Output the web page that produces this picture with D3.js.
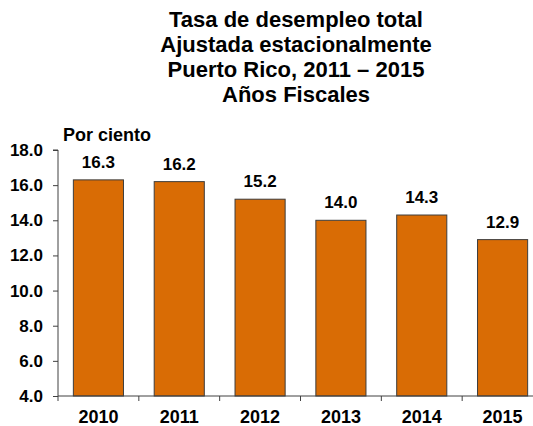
<!DOCTYPE html>
<html>
<head>
<meta charset="utf-8">
<script src="https://cdn.jsdelivr.net/npm/d3@7"></script>
<style>
  body { margin: 0; background: #fff; }
  text { font-family: "Liberation Sans", Arial, sans-serif; font-weight: bold; fill: #000; }
</style>
</head>
<body>
<div id="chart"></div>
<script>
const years = ["2010", "2011", "2012", "2013", "2014", "2015"];
const rates = [16.3, 16.2, 15.2, 14.0, 14.3, 12.9];
const yTicks = [4, 6, 8, 10, 12, 14, 16, 18];
const titleLines = ["Tasa de desempleo total", "Ajustada estacionalmente", "Puerto Rico, 2011 \u2013 2015", "A\u00f1os Fiscales"];

const width = 533, height = 426;
const margin = {top: 150, right: -10, bottom: 30, left: 58};

const svg = d3.select("#chart").append("svg")
    .attr("width", width)
    .attr("height", height);

const x = d3.scaleBand()
    .domain(years)
    .range([margin.left, width - margin.right])
    .paddingInner(0.38)
    .paddingOuter(0.19);

const y = d3.scaleLinear()
    .domain([4, 18])
    .range([height - margin.bottom, margin.top]);

// title
svg.append("g").selectAll("text")
    .data(titleLines)
    .enter().append("text")
    .attr("x", 296)
    .attr("y", (d, i) => 27 + i * 25)
    .attr("text-anchor", "middle")
    .style("font-size", "22px")
    .text(d => d);

// bars
svg.append("g").selectAll("rect")
    .data(rates)
    .enter().append("rect")
    .attr("x", (d, i) => x(years[i]))
    .attr("y", d => y(d))
    .attr("width", x.bandwidth())
    .attr("height", d => y(4) - y(d))
    .attr("fill", "#d96c05")
    .attr("stroke", "#3d3d3d")
    .attr("stroke-width", 1);

// value labels
svg.append("g").selectAll("text")
    .data(rates)
    .enter().append("text")
    .attr("x", (d, i) => x(years[i]) + x.bandwidth() / 2)
    .attr("y", d => y(d) - 12)
    .attr("text-anchor", "middle")
    .style("font-size", "17px")
    .text(d => d.toFixed(1));

// y axis
const yAxis = svg.append("g")
    .attr("transform", `translate(${margin.left},0)`)
    .call(d3.axisLeft(y).tickValues(yTicks).tickFormat(d3.format(".1f")).tickSize(5).tickPadding(10));
yAxis.select(".domain").attr("stroke", "#404040").attr("d", `M-5,${y(18)}H0V${y(4)}`);
yAxis.selectAll(".tick line").attr("stroke", "#404040");
yAxis.selectAll(".tick text").style("font-size", "17px");

// x axis
const xAxis = svg.append("g")
    .attr("transform", `translate(0,${y(4)})`)
    .call(d3.axisBottom(x).tickSize(0).tickPadding(14));
xAxis.select(".domain").attr("stroke", "#404040").attr("d", `M${margin.left},0H${width}`);
xAxis.selectAll(".tick text").style("font-size", "18px");

// x tick marks at category boundaries
svg.append("g").selectAll("line")
    .data(years)
    .enter().append("line")
    .attr("x1", d => x(d) - x.step() * x.paddingInner() / 2)
    .attr("x2", d => x(d) - x.step() * x.paddingInner() / 2)
    .attr("y1", y(4))
    .attr("y2", y(4) + 5)
    .attr("stroke", "#404040");

// unit label
svg.append("text")
    .attr("x", 63)
    .attr("y", 141)
    .style("font-size", "18px")
    .text("Por ciento");
</script>
</body>
</html>
